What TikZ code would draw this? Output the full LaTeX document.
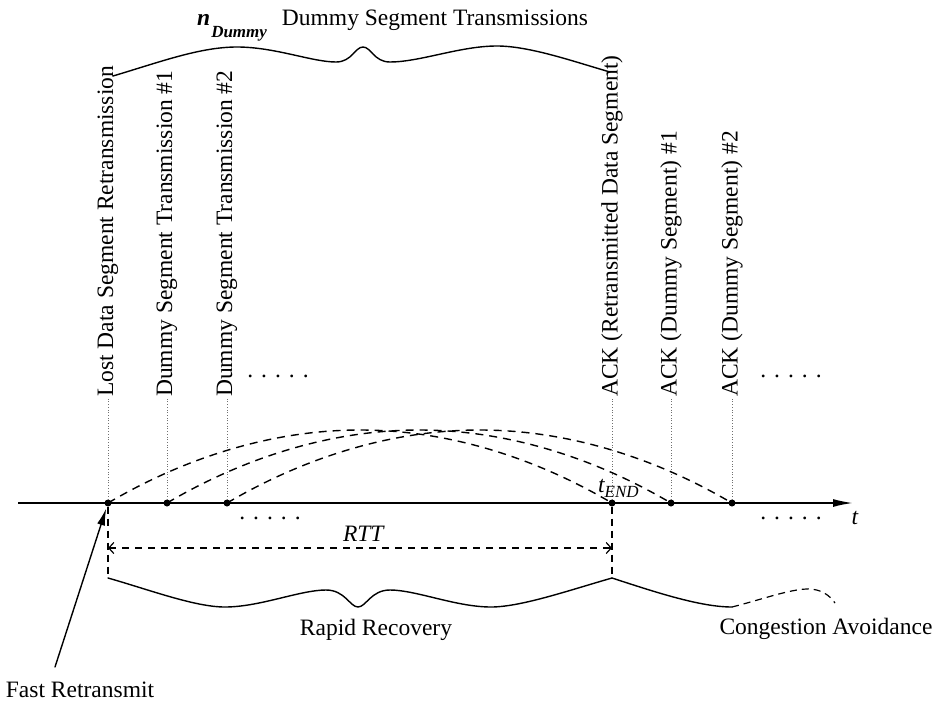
\documentclass[tikz,border=0pt]{standalone}
\usepackage{fontspec}
\setmainfont{Liberation Serif}
\usetikzlibrary{arrows.meta,calc}
\definecolor{ink}{HTML}{000000}
\definecolor{muted}{HTML}{707070}
\tikzset{
  axisline/.style={draw=ink, line width=1.7pt},
  curve/.style={draw=ink, line width=1.4pt, line cap=round, line join=round},
  ackarc/.style={draw=ink, line width=1.4pt, dash pattern=on 8pt off 6pt},
  drop/.style={draw=ink, line width=1.5pt, dash pattern=on 7pt off 5pt},
  guide/.style={draw=muted, line width=0.7pt, dotted},
  dot/.style={circle, fill=ink, inner sep=0pt, minimum size=7pt},
  lab/.style={text=ink, font=\fontsize{23.5}{28}\selectfont, inner sep=1pt},
  vlab/.style={lab, rotate=90, anchor=west},
}
\newcommand{\dotrow}{.\hspace{8pt}.\hspace{8pt}.\hspace{8pt}.\hspace{8pt}.}
\newcommand{\subtxt}[2]{\raisebox{-#1}{\fontsize{17}{17}\selectfont #2}}

\begin{document}
\begin{tikzpicture}[x=1pt,y=-1pt]
  \useasboundingbox (0,0) rectangle (938,702);
  % time axis
  \coordinate (t0) at (18,503);
  \coordinate (t1) at (853,503);
  \draw[axisline,-{Latex[length=20pt,width=8pt]}] (t0) -- (t1);
  \node[lab] (tl) at (855,518) {\textit{t}};
  % segments sent and ACKs received
  \foreach \N/\X/\T in {s0/108/{Lost Data Segment Retransmission},
      s1/167/{Dummy Segment Transmission \#1},
      s2/227/{Dummy Segment Transmission \#2},
      a0/612/{ACK (Retransmitted Data Segment)},
      a1/671/{ACK (Dummy Segment) \#1},
      a2/732/{ACK (Dummy Segment) \#2}} {
    \node[dot] (\N) at (\X,503) {};
    \node[vlab] (\N-l) at (\X,398) {\T};
    \draw[guide] (\N) -- (\N-l.west);
  }
  \foreach \A/\B in {s0/a0,s1/a1,s2/a2}
    \draw[ackarc] (\A.center) parabola bend ($(\A)!0.5!(\B)+(0,-73)$) (\B.center);
  \node[lab,anchor=base west] (tend) at (597,492) {\textit{t\subtxt{5pt}{END}}};
  % rows of dots
  \node[lab,anchor=base] (dl) at (278,377) {\dotrow};
  \node[lab,anchor=base] (dr) at (791,377) {\dotrow};
  \node[lab,anchor=base] (ds) at (270,519) {\dotrow};
  \node[lab,anchor=base] (da) at (791,519) {\dotrow};
  % top brace
  \node[lab,anchor=base west] (ntop) at (196,25)
    {\textbf{\textit{n\kern1pt\subtxt{12pt}{Dummy}}}\hspace{15pt}Dummy Segment Transmissions};
  \draw[curve] (113,76) .. controls (160,62) and (200,47) .. (237,47)
    .. controls (275,47) and (312,62) .. (336,62)
    .. controls (352,62) and (355,47) .. (363,47)
    .. controls (371,47) and (374,62) .. (390,62)
    .. controls (420,62) and (460,46) .. (497,46)
    .. controls (530,46) and (575,62) .. (610,72);
  % RTT
  \coordinate (b0) at (108,578);
  \coordinate (b1) at (612,578);
  \coordinate (r0) at (108,548);
  \coordinate (r1) at (612,548);
  \draw[drop] (s0) -- (b0);
  \draw[drop] (a0) -- (b1);
  \draw[draw=ink, line width=1.2pt, dash pattern=on 7pt off 6pt,
    {Straight Barb[length=5pt,width=11pt]}-{Straight Barb[length=5pt,width=11pt]}] (r0) -- (r1);
  \node[lab] (rtt) at (364,534) {\textit{RTT}};
  % bottom brace
  \draw[curve] (b0) .. controls (150,590) and (195,607) .. (225,607)
    .. controls (260,607) and (300,590) .. (326,590)
    .. controls (345,590) and (350,607) .. (358,607)
    .. controls (366,607) and (371,590) .. (390,590)
    .. controls (416,590) and (456,607) .. (491,607)
    .. controls (521,607) and (570,590) .. (b1);
  \node[lab] (rr) at (376,630) {Rapid Recovery};
  % after recovery
  \coordinate (c0) at (732,607);
  \draw[curve] (b1) .. controls (655,592) and (700,607) .. (c0);
  \draw[draw=ink, line width=1.2pt, dash pattern=on 7pt off 5pt]
    (c0) .. controls (760,600) and (790,589) .. (808,589)
    .. controls (822,589) and (830,596) .. (835,603);
  \node[lab] (ca) at (826,629) {Congestion Avoidance};
  % fast retransmit
  \node[lab] (fr) at (80,690) {Fast Retransmit};
  \coordinate (frt) at (55,667);
  \draw[curve,-{Latex[length=17pt,width=8pt]},shorten >=2pt] (frt) -- (s0);
\end{tikzpicture}
\end{document}
